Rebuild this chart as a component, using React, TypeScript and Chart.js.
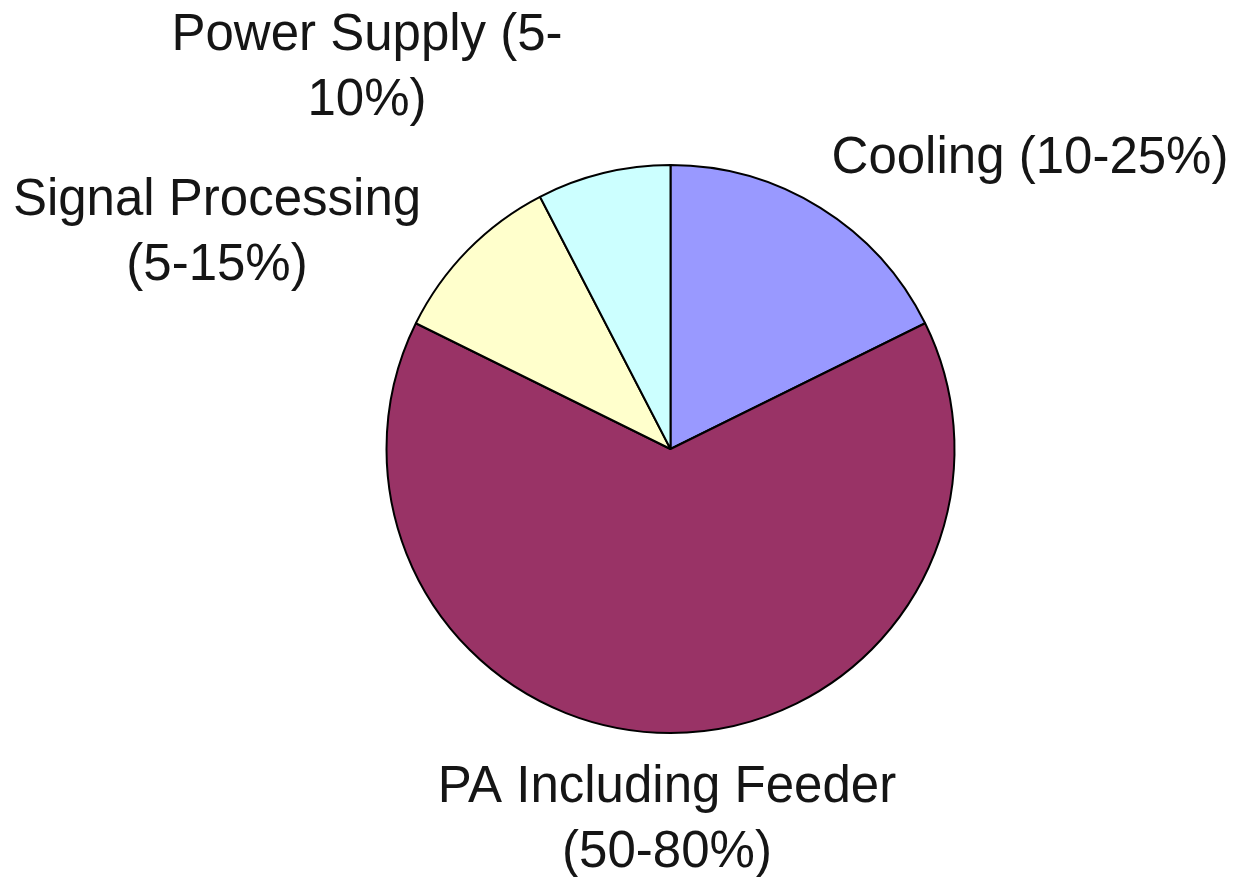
import React, { useEffect, useRef } from "react";
import { Chart, registerables } from "chart.js";

Chart.register(...registerables);

const categories = ["Cooling", "PA Including Feeder", "Signal Processing", "Power Supply"];
const shares = [17.7, 64.6, 10.1, 7.6];
const labelLines = [
  ["Cooling (10-25%)"],
  ["PA Including Feeder", "(50-80%)"],
  ["Signal Processing", "(5-15%)"],
  ["Power Supply (5-", "10%)"],
];
const colors = ["#9999FF", "#993366", "#FFFFCC", "#CCFFFF"];

// label anchor offsets from pie centre (layout, not data)
const labelOffsets = [
  [359.5, -276],
  [-3.5, 353],
  [-453.5, -234],
  [-303.5, -399],
];

const labelPlugin = {
  id: "outsideLabels",
  afterDraw(chart: any) {
    const meta = chart.getDatasetMeta(0);
    const arc = meta.data[0];
    if (!arc) return;
    const cx = arc.x;
    const cy = arc.y;
    const ctx = chart.ctx;
    ctx.save();
    ctx.font = '51px "Liberation Sans", Arial, sans-serif';
    ctx.fillStyle = "#151515";
    ctx.textAlign = "center";
    ctx.textBaseline = "alphabetic";
    labelLines.forEach((lines, i) => {
      const [dx, dy] = labelOffsets[i];
      lines.forEach((t, j) => {
        ctx.fillText(t, cx + dx, cy + dy + j * 65);
      });
    });
    ctx.restore();
  },
};

export default function App() {
  const ref = useRef<HTMLCanvasElement>(null);
  useEffect(() => {
    document.body.style.margin = "0";
    const chart = new Chart(ref.current as HTMLCanvasElement, {
      type: "pie",
      data: {
        labels: categories,
        datasets: [
          {
            data: shares,
            backgroundColor: colors,
            borderColor: "#000000",
            borderWidth: 2,
          },
        ],
      },
      options: {
        responsive: false,
        animation: false,
        layout: { padding: { left: 385.5, right: 280.5, top: 164, bottom: 143 } },
        plugins: {
          legend: { display: false },
          tooltip: { enabled: false },
        },
      },
      plugins: [labelPlugin],
    });
    return () => chart.destroy();
  }, []);
  return (
    <div style={{ width: 1236, height: 877, background: "#fff" }}>
      <canvas ref={ref} width={1236} height={877} style={{ display: "block" }} />
    </div>
  );
}
